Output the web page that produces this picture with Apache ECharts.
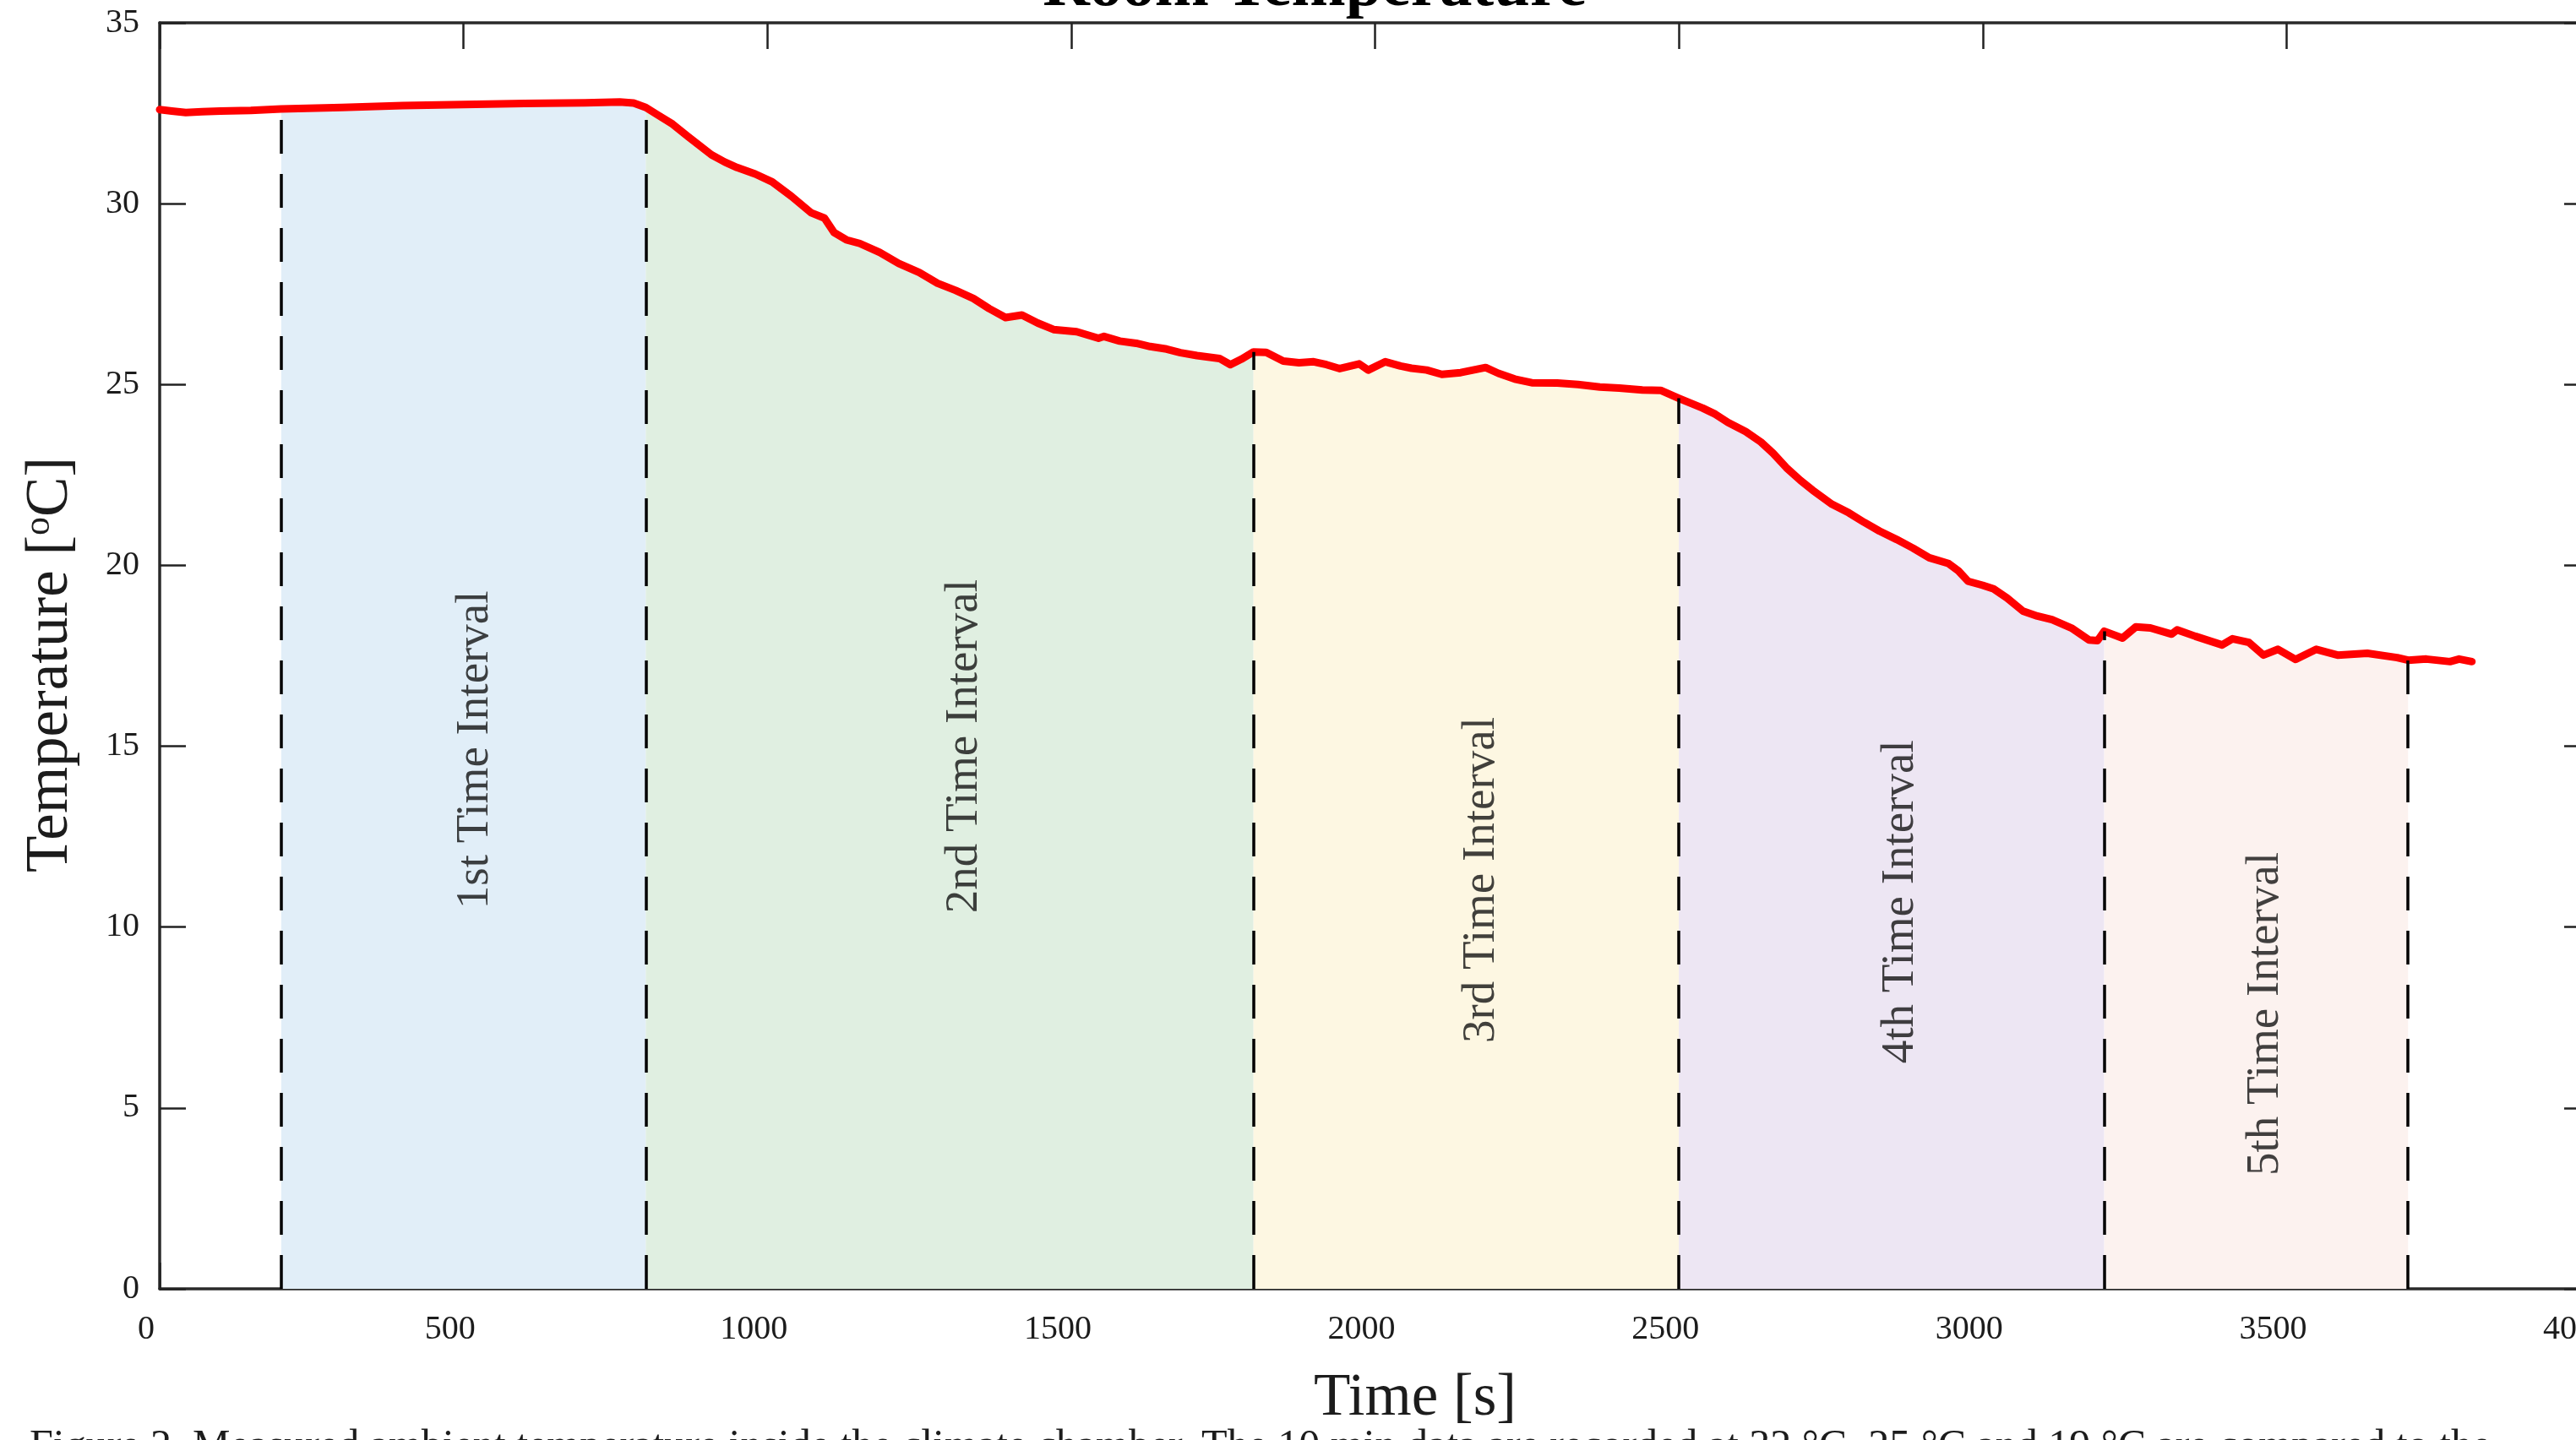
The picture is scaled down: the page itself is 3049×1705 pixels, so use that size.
<!DOCTYPE html>
<html>
<head>
<meta charset="utf-8">
<title>Room Temperature</title>
<script src="https://cdn.jsdelivr.net/npm/echarts@6/dist/echarts.min.js"></script>
<style>
  html, body { margin: 0; padding: 0; background: #ffffff; }
  #chart { width: 3049px; height: 1705px; }
</style>
</head>
<body>
<div id="chart"></div>
<script>
// Measured room temperature [time in s, temperature in °C]
const roomTemp = [
  [0, 32.60], [20, 32.56], [43, 32.52], [70, 32.54], [100, 32.56], [150, 32.58],
  [200, 32.62], [300, 32.66], [400, 32.71], [500, 32.74], [600, 32.77], [700, 32.79],
  [757, 32.81], [780, 32.78], [800, 32.66], [820, 32.45], [844, 32.20], [870, 31.85],
  [908, 31.35], [930, 31.15], [950, 31.00], [980, 30.82], [1008, 30.60], [1040, 30.20],
  [1072, 29.75], [1094, 29.60], [1110, 29.20], [1130, 29.00], [1152, 28.90], [1185, 28.65],
  [1216, 28.35], [1250, 28.10], [1280, 27.80], [1310, 27.60], [1339, 27.38], [1365, 27.10],
  [1392, 26.85], [1419, 26.92], [1445, 26.70], [1471, 26.52], [1509, 26.46], [1545, 26.28],
  [1554, 26.33], [1580, 26.20], [1607, 26.14], [1630, 26.05], [1657, 25.98], [1680, 25.88],
  [1707, 25.80], [1744, 25.72], [1762, 25.55], [1780, 25.70], [1800, 25.90], [1821, 25.89],
  [1849, 25.65], [1875, 25.60], [1899, 25.63], [1920, 25.55], [1942, 25.44], [1974, 25.57],
  [1989, 25.40], [2017, 25.63], [2042, 25.51], [2060, 25.45], [2085, 25.40], [2110, 25.28],
  [2141, 25.33], [2182, 25.47], [2203, 25.31], [2230, 25.15], [2258, 25.05], [2300, 25.04],
  [2334, 25.00], [2370, 24.93], [2402, 24.90], [2440, 24.85], [2470, 24.84], [2500, 24.62],
  [2539, 24.35], [2560, 24.18], [2581, 23.95], [2610, 23.70], [2635, 23.41], [2655, 23.10],
  [2677, 22.70], [2700, 22.35], [2720, 22.08], [2752, 21.69], [2780, 21.45], [2805, 21.19],
  [2830, 20.95], [2858, 20.72], [2885, 20.48], [2912, 20.21], [2944, 20.05], [2960, 19.85],
  [2976, 19.56], [3000, 19.45], [3018, 19.35], [3040, 19.10], [3066, 18.74], [3090, 18.60],
  [3114, 18.50], [3146, 18.27], [3175, 17.94], [3189, 17.92], [3200, 18.18], [3230, 17.99],
  [3252, 18.30], [3276, 18.27], [3311, 18.10], [3320, 18.22], [3350, 18.04], [3394, 17.80],
  [3411, 17.97], [3438, 17.87], [3462, 17.52], [3486, 17.68], [3515, 17.40], [3549, 17.68],
  [3584, 17.52], [3633, 17.57], [3682, 17.45], [3700, 17.38], [3730, 17.41], [3769, 17.34],
  [3784, 17.41], [3805, 17.34]
];

// Interval boundaries [s]
const intervalBounds = [200, 800, 1800, 2500, 3200, 3700];
const intervalNames = [
  '1st Time Interval', '2nd Time Interval', '3rd Time Interval',
  '4th Time Interval', '5th Time Interval'
];
// Where each interval name sits [s, °C]
const intervalLabelAnchor = [
  [520, 14.9], [1325, 15.0], [2175, 11.3], [2865, 10.7], [3465, 7.6]
];

// Axis ticks
const xTicks = { min: 0, max: 4000, step: 500 };
const yTicks = { min: 0, max: 35, step: 5 };

const intervalFills = ['#e1eef8', '#e0efe1', '#fdf7e2', '#ede6f3', '#fcf2ef'];
const SERIF = '"Liberation Serif", "Times New Roman", serif';
const INK = '#1c1c1c';

const chart = echarts.init(document.getElementById('chart'), null, { renderer: 'canvas' });

const tempAt = t => roomTemp.find(p => p[0] === t)[1];

const fillSeries = intervalNames.map((name, i) => ({
  type: 'line',
  name: name,
  data: roomTemp.filter(p => p[0] >= intervalBounds[i] && p[0] <= intervalBounds[i + 1]),
  showSymbol: false,
  symbol: 'none',
  lineStyle: { width: 0, opacity: 0 },
  areaStyle: { color: intervalFills[i], opacity: 1, origin: 'start' },
  silent: true,
  z: 1
}));

const dividerSeries = {
  type: 'line',
  data: [],
  silent: true,
  z: 2,
  markLine: {
    silent: true,
    symbol: ['none', 'none'],
    label: { show: false },
    lineStyle: { color: '#000000', width: 3.5, type: [40, 24], opacity: 1 },
    emphasis: { disabled: true },
    data: intervalBounds.map(b => [
      { coord: [b, 0] },
      { coord: [b, tempAt(b)] }
    ])
  }
};

const tempSeries = {
  type: 'line',
  name: 'Room Temperature',
  data: roomTemp,
  showSymbol: false,
  symbol: 'none',
  lineStyle: { color: '#ff0000', width: 9, join: 'round', cap: 'round' },
  silent: true,
  z: 3
};

const labelSeries = {
  type: 'scatter',
  data: intervalLabelAnchor.map((p, i) => ({ value: p, name: intervalNames[i] })),
  symbolSize: 0,
  silent: true,
  z: 4,
  label: {
    show: true,
    position: 'inside',
    rotate: 90,
    formatter: p => p.name,
    fontFamily: SERIF,
    fontSize: 55,
    color: '#111111'
  }
};

const axisCommon = {
  axisLine: { show: true, onZero: false, lineStyle: { color: '#2a2a2a', width: 3.5 } },
  axisTick: { show: true, inside: true, length: 31, lineStyle: { color: '#222222', width: 2.5 } },
  splitLine: { show: false }
};

chart.setOption({
  animation: false,
  backgroundColor: '#ffffff',
  grid: {
    left: 189, top: 27, width: 2877, height: 1499,
    containLabel: false, outerBoundsMode: 'none'
  },
  xAxis: [
    Object.assign({
      type: 'value', position: 'bottom',
      min: xTicks.min, max: xTicks.max, interval: xTicks.step,
      axisLabel: {
        show: true, margin: 28, fontFamily: SERIF, fontSize: 40, color: INK,
        padding: [0, 32, 0, 0], formatter: v => String(v)
      }
    }, axisCommon),
    Object.assign({
      type: 'value', position: 'top',
      min: xTicks.min, max: xTicks.max, interval: xTicks.step,
      axisLabel: { show: false }
    }, axisCommon)
  ],
  yAxis: [
    Object.assign({
      type: 'value', position: 'left',
      min: yTicks.min, max: yTicks.max, interval: yTicks.step,
      axisLabel: {
        show: true, margin: 24, fontFamily: SERIF, fontSize: 40, color: INK,
        formatter: v => String(v)
      }
    }, axisCommon),
    Object.assign({
      type: 'value', position: 'right',
      min: yTicks.min, max: yTicks.max, interval: yTicks.step,
      axisLabel: { show: false }
    }, axisCommon)
  ],
  series: fillSeries.concat([dividerSeries, tempSeries, labelSeries]),
  graphic: [
    {
      type: 'text', x: 1556, y: -14, z: 10, silent: true,
      style: {
        text: 'Room Temperature', align: 'center', verticalAlign: 'middle',
        fontFamily: SERIF, fontWeight: 'bold', fontSize: 77, fill: '#000000'
      }
    },
    {
      type: 'text', x: 60, y: 787, rotation: Math.PI / 2, z: 10, silent: true,
      style: {
        text: 'Temperature [{sup|o}C]', align: 'center', verticalAlign: 'middle',
        fontFamily: SERIF, fontSize: 71, fill: INK,
        rich: {
          sup: { fontFamily: SERIF, fontSize: 44, fill: INK, verticalAlign: 'top', lineHeight: 71 }
        }
      }
    },
    {
      type: 'text', x: 1675, y: 1656, z: 10, silent: true,
      style: {
        text: 'Time [s]', align: 'center', verticalAlign: 'middle',
        fontFamily: SERIF, fontSize: 71, fill: INK
      }
    },
    {
      type: 'text', x: 35, y: 1714, z: 10, silent: true,
      style: {
        text: 'Figure 2. Measured ambient temperature inside the climate chamber. The 10 min data are recorded at 32 °C, 25 °C and 19 °C are compared to the',
        align: 'left', verticalAlign: 'middle',
        fontFamily: SERIF, fontSize: 50, fill: INK
      }
    }
  ]
});
</script>
</body>
</html>
